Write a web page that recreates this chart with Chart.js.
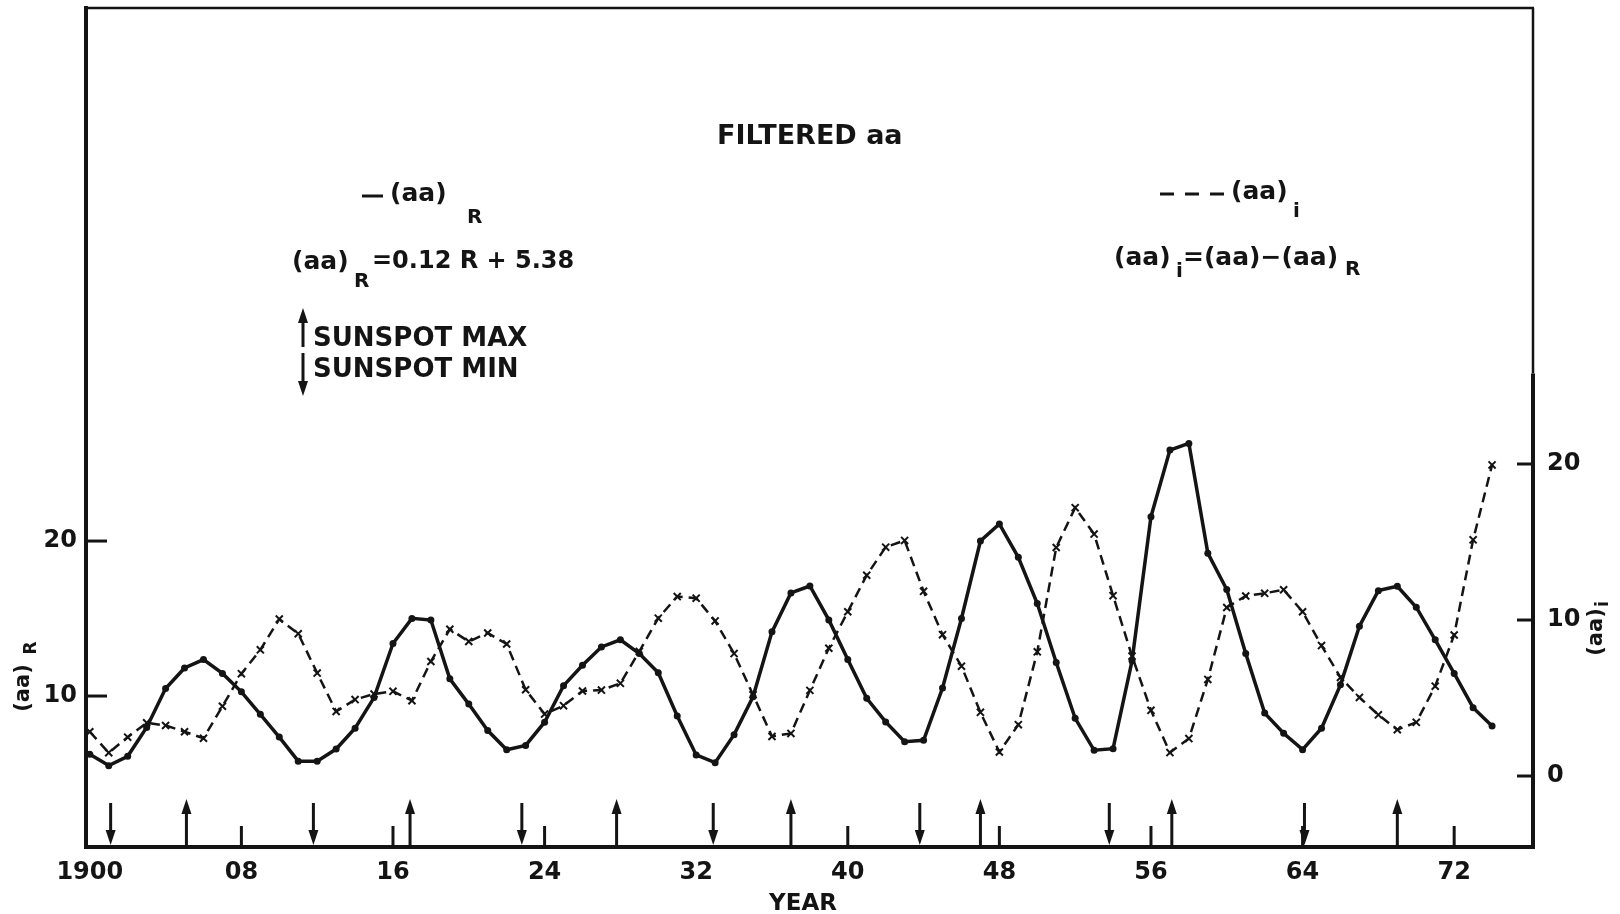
<!DOCTYPE html>
<html><head><meta charset="utf-8">
<script src="https://cdn.jsdelivr.net/npm/chart.js@4.4.1/dist/chart.umd.min.js"></script>
<style>html,body{margin:0;padding:0;background:#fff;}canvas{display:block;}</style>
</head><body>
<canvas id="c" width="1620" height="914"></canvas>
<script>
// ---- data ----
const years = [1900,1901,1902,1903,1904,1905,1906,1907,1908,1909,
  1910,1911,1912,1913,1914,1915,1916,1917,1918,1919,
  1920,1921,1922,1923,1924,1925,1926,1927,1928,1929,
  1930,1931,1932,1933,1934,1935,1936,1937,1938,1939,
  1940,1941,1942,1943,1944,1945,1946,1947,1948,1949,
  1950,1951,1952,1953,1954,1955,1956,1957,1958,1959,
  1960,1961,1962,1963,1964,1965,1966,1967,1968,1969,
  1970,1971,1972,1973,1974];
const aaR = [6.24,5.51,6.11,7.97,10.48,11.81,12.35,11.46,10.27,8.82,
  7.35,5.8,5.8,6.58,7.92,9.90,13.39,15.01,14.9,11.11,
  9.48,7.77,6.53,6.81,8.31,10.67,11.99,13.17,13.63,12.74,
  11.50,8.71,6.2,5.7,7.51,9.95,14.14,16.65,17.1,14.91,
  12.35,9.85,8.33,7.05,7.14,10.52,15.00,20.00,21.1,18.95,
  15.97,12.16,8.56,6.5,6.6,12.27,21.57,25.87,26.3,19.22,
  16.87,12.74,8.90,7.60,6.54,7.92,10.72,14.50,16.80,17.08,
  15.73,13.63,11.46,9.25,8.06];
const aaI = [2.84,1.49,2.49,3.41,3.24,2.84,2.42,4.47,6.56,8.09,
  10.06,9.12,6.60,4.14,4.90,5.26,5.43,4.83,7.34,9.41,
  8.62,9.17,8.46,5.53,3.97,4.51,5.45,5.51,5.94,7.99,
  10.12,11.5,11.4,9.94,7.85,5.21,2.54,2.73,5.49,8.19,
  10.53,12.87,14.67,15.1,11.84,9.06,7.04,4.08,1.54,3.29,
  7.96,14.65,17.2,15.51,11.56,7.69,4.21,1.5,2.40,6.19,
  10.80,11.54,11.71,11.94,10.53,8.36,6.32,5.04,3.92,2.97,
  3.44,5.76,9.04,15.14,19.94];
const sunspotMaxYears = [1905.1,1916.9,1927.8,1937.0,1947.0,1957.1,1969.0];
const sunspotMinYears = [1901.1,1911.8,1922.8,1932.9,1943.8,1953.8,1964.1];
const xTickValues = [1900,1908,1916,1924,1932,1940,1948,1956,1964,1972];
const xTickLabels = ['1900','08','16','24','32','40','48','56','64','72'];
const xTickMarks = [1908,1916,1924,1940,1948,1956,1964,1972];
const leftTicks = [10,20];
const rightTicks = [0,10,20];
const leftRange = [0.26, 54.39];
const rightRange = [-4.55, 49.23];
const xRange = [1899.8, 1976.16];
const rightAxisTop = 25.8;

const FONT = '"DejaVu Sans", "Liberation Sans", sans-serif';
const INK = '#141414';

const annot = {
  id: 'annot',
  afterDraw(chart) {
    const {ctx, chartArea: a, scales} = chart;
    const sx = scales.x, sy = scales.y, sy2 = scales.y2;
    ctx.save();
    ctx.strokeStyle = INK; ctx.fillStyle = INK; ctx.lineCap = 'butt';
    const line = (x1, y1, x2, y2, w, dash) => {
      ctx.beginPath(); ctx.lineWidth = w; ctx.setLineDash(dash || []);
      ctx.moveTo(x1, y1); ctx.lineTo(x2, y2); ctx.stroke(); ctx.setLineDash([]);
    };
    const head = (x, tipY, dir) => { // dir -1 up, +1 down
      ctx.beginPath(); ctx.moveTo(x, tipY); ctx.lineTo(x - 5, tipY - dir * 15);
      ctx.lineTo(x + 5, tipY - dir * 15); ctx.closePath(); ctx.fill();
    };
    const up = (x, y0, y1) => { line(x, y0, x, y1 + 6, 3); head(x, y1, -1); };
    const down = (x, y0, y1) => { line(x, y0, x, y1 - 6, 3); head(x, y1, 1); };
    const txt = (s, x, y, size, align) => {
      ctx.font = 'bold ' + size + 'px ' + FONT; ctx.textAlign = align || 'left';
      ctx.textBaseline = 'middle'; ctx.fillText(s, x, y);
    };
    const rtxt = (s, x, y, size) => {
      ctx.save(); ctx.translate(x, y); ctx.rotate(-Math.PI / 2);
      txt(s, 0, 0, size, 'center'); ctx.restore();
    };
    // frame
    line(a.left, a.top, a.right + 1, a.top, 2.5);
    const ry = sy2.getPixelForValue(rightAxisTop);
    line(a.right, a.top, a.right, ry, 2.5);
    line(a.right, ry, a.right, a.bottom + 2, 4);
    // inward tick marks
    xTickMarks.forEach(v => { const p = sx.getPixelForValue(v); line(p, a.bottom, p, a.bottom - 21, 3); });
    leftTicks.forEach(v => { const p = sy.getPixelForValue(v); line(a.left, p, a.left + 21, p, 3); });
    rightTicks.forEach(v => { const p = sy2.getPixelForValue(v); line(a.right, p, a.right - 16, p, 3); });
    // sunspot arrows
    sunspotMaxYears.forEach(v => { const p = sx.getPixelForValue(v); up(p, a.bottom, a.bottom - 48); });
    sunspotMinYears.forEach(v => { const p = sx.getPixelForValue(v); down(p, a.bottom - 44, a.bottom - 2); });
    // annotations
    txt('FILTERED aa', 717, 137, 27);
    line(362, 196, 383, 196, 3);
    txt('(aa)', 390, 194, 25);
    txt('R', 467, 218, 20);
    txt('(aa)', 292, 262, 25);
    txt('R', 354, 282, 20);
    txt('=0.12 R + 5.38', 372, 262, 24);
    up(303, 347, 308);
    down(303, 353, 396);
    txt('SUNSPOT MAX', 313, 339, 26);
    txt('SUNSPOT MIN', 313, 370, 26);
    line(1160, 194, 1224, 194, 3, [14, 11]);
    txt('(aa)', 1231, 192, 25);
    txt('i', 1293, 212, 20);
    txt('(aa)', 1114, 258, 25);
    txt('i', 1176, 272, 20);
    txt('=(aa)\u2212(aa)', 1183, 258, 25);
    txt('R', 1345, 270, 20);
    // axis titles
    rtxt('(aa)', 24, 688, 21);
    rtxt('R', 32, 648, 17);
    rtxt('(aa)', 1597, 632, 21);
    rtxt('i', 1604, 604, 17);
    txt('YEAR', 803, 904, 23, 'center');
    ctx.restore();
  }
};

const noPadV = s => { s.paddingTop = 0; s.paddingBottom = 0; };

new Chart(document.getElementById('c'), {
  type: 'line',
  data: {
    datasets: [
      {
        label: '(aa)R',
        data: years.map((y, i) => ({x: y, y: aaR[i]})),
        yAxisID: 'y',
        borderColor: INK, borderWidth: 3.5, tension: 0,
        pointRadius: 3.5, pointBackgroundColor: INK, pointBorderWidth: 0,
        fill: false
      },
      {
        label: '(aa)i',
        data: years.map((y, i) => ({x: y, y: aaI[i]})),
        yAxisID: 'y2',
        borderColor: INK, borderWidth: 2.5, borderDash: [10, 6], tension: 0,
        pointStyle: 'crossRot', pointRadius: 5, pointBorderColor: INK, pointBorderWidth: 2,
        fill: false
      }
    ]
  },
  options: {
    responsive: false, animation: false, devicePixelRatio: 1,
    layout: {padding: {top: 8, left: 0, right: 0, bottom: 0}},
    plugins: {legend: {display: false}, tooltip: {enabled: false}, title: {display: false}},
    scales: {
      x: {
        type: 'linear', position: 'bottom', min: xRange[0], max: xRange[1],
        afterFit: s => { s.height = 67; s.paddingLeft = 0; s.paddingRight = 0; },
        afterBuildTicks: s => { s.ticks = xTickValues.map(v => ({value: v})); },
        ticks: {
          autoSkip: false, maxRotation: 0, padding: 11, color: INK,
          font: {family: FONT, size: 24, weight: 'bold'},
          callback: v => { const i = xTickValues.indexOf(v); return i >= 0 ? xTickLabels[i] : ''; }
        },
        grid: {display: true, drawOnChartArea: false, drawTicks: false},
        border: {display: true, width: 4, color: INK}
      },
      y: {
        type: 'linear', position: 'left', min: leftRange[0], max: leftRange[1],
        afterFit: s => { s.width = 86; noPadV(s); },
        afterBuildTicks: s => { s.ticks = leftTicks.map(v => ({value: v})); },
        ticks: {padding: 9, color: INK, font: {family: FONT, size: 24, weight: 'bold'}},
        grid: {display: true, drawOnChartArea: false, drawTicks: false},
        border: {display: true, width: 4, color: INK}
      },
      y2: {
        type: 'linear', position: 'right', min: rightRange[0], max: rightRange[1],
        afterFit: s => { s.width = 87; noPadV(s); },
        afterBuildTicks: s => { s.ticks = rightTicks.map(v => ({value: v})); },
        ticks: {padding: 14, color: INK, font: {family: FONT, size: 24, weight: 'bold'}},
        grid: {display: true, drawOnChartArea: false, drawTicks: false},
        border: {display: false}
      }
    }
  },
  plugins: [annot]
});
</script>
</body></html>
